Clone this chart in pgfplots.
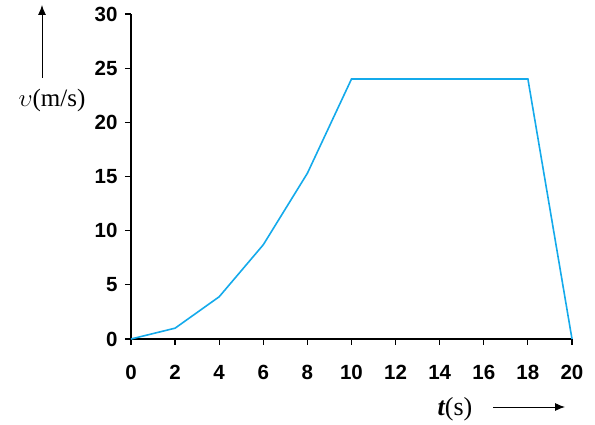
\documentclass[border=0pt]{standalone}
\usepackage{pgfplots}
\pgfplotsset{compat=1.18}
\usetikzlibrary{arrows.meta}
\usepackage{fontspec}
\setmainfont{Liberation Serif}
\newfontfamily\tickfont{Liberation Sans}
\definecolor{lineblue}{RGB}{20,170,235}
\begin{document}
\begin{tikzpicture}[x=1pt,y=1pt]
\begin{axis}[
  at={(0,0)}, anchor=origin,
  scale only axis, width=441pt, height=325pt,
  xmin=0, xmax=20, ymin=0, ymax=30,
  axis lines*=left,
  axis line style={line width=1.3pt},
  tick align=outside,
  major tick length=6pt,
  every tick/.style={line width=1.2pt, black},
  xtick={0,2,...,20}, ytick={0,5,...,30},
  /pgf/number format/assume math mode=true,
  ticklabel style={font=\tickfont\bfseries\fontsize{20.5}{22}\selectfont},
  xticklabel style={yshift=-17pt},
  yticklabel style={xshift=-4pt},
  clip=false,
]
\addplot[lineblue, line width=1.6pt] coordinates {
(0,0) (2,1) (4,3.9) (6,8.7) (8,15.3) (10,24) (18,24) (20,0)
};
\end{axis}
\node at (-79pt,239pt) {\fontsize{25}{27}\selectfont$\upsilon$(m/s)};
\draw[line width=0.9pt,-{Latex[length=10pt,width=8pt]}] (-89pt,261pt) -- (-89pt,334pt);
\node at (324pt,-70pt) {\fontsize{26}{28}\selectfont{\bfseries\itshape t}(s)};
\draw[line width=0.9pt,-{Latex[length=10pt,width=8pt]}] (362pt,-68pt) -- (434pt,-68pt);
\pgfresetboundingbox
\path (-131pt,-86pt) rectangle (464pt,339pt);
\end{tikzpicture}
\end{document}
